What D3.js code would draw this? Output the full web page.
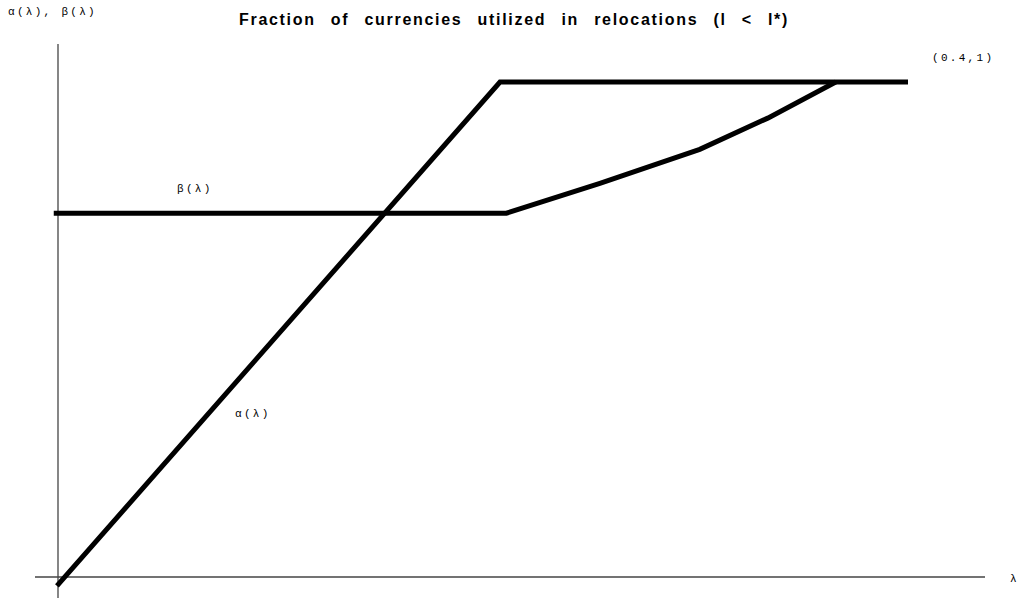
<!DOCTYPE html>
<html>
<head>
<meta charset="utf-8">
<script src="https://cdn.jsdelivr.net/npm/d3@7"></script>
<style>
  body { margin: 0; background: #fff; }
  .lbl { font-family: "Liberation Mono", "DejaVu Sans Mono", monospace; font-size: 11px; letter-spacing: 2.3px; fill: #000; }
</style>
</head>
<body>
<div id="chart"></div>
<script>
// lambda values and the two curves
const alphaLambda = [-0.0005, 0.208, 0.4];
const alphaValues = [-0.018, 1, 1];
const betaLambda = [-0.002, 0.211, 0.255, 0.302, 0.334, 0.366];
const betaValues = [0.735, 0.735, 0.795, 0.864, 0.927, 1];

let width = 1022;
let height = 598;

// origin of axes in pixels
let x = d3.scaleLinear().domain([0, 0.4]).range([58, 908]);
let y = d3.scaleLinear().domain([0, 1]).range([577, 82]);

let svg = d3.select("#chart").append("svg")
    .attr("width", width)
    .attr("height", height);

// axes (plain lines, no ticks)
svg.append("line")
    .attr("x1", 35).attr("x2", 985)
    .attr("y1", y(0)).attr("y2", y(0))
    .attr("stroke", "#444").attr("stroke-width", 1.3);

svg.append("line")
    .attr("x1", x(0)).attr("x2", x(0))
    .attr("y1", 44).attr("y2", height)
    .attr("stroke", "#444").attr("stroke-width", 1.3);

let line = d3.line()
    .x(function(d) { return x(d[0]); })
    .y(function(d) { return y(d[1]); });

let alphaData = alphaLambda.map(function(l, i) { return [l, alphaValues[i]]; });
let betaData = betaLambda.map(function(l, i) { return [l, betaValues[i]]; });

svg.append("path")
    .datum(betaData)
    .attr("fill", "none")
    .attr("stroke", "#000")
    .attr("stroke-width", 5)
    .attr("d", line);

svg.append("path")
    .datum(alphaData)
    .attr("fill", "none")
    .attr("stroke", "#000")
    .attr("stroke-width", 5)
    .attr("d", line);

// title
svg.append("text")
    .attr("x", 514)
    .attr("y", 25)
    .attr("text-anchor", "middle")
    .style("font-family", "'Liberation Sans', Arial, sans-serif")
    .style("font-weight", "bold")
    .style("font-size", "16px")
    .style("letter-spacing", "1.7px")
    .style("word-spacing", "9px")
    .text("Fraction of currencies utilized in relocations (l < l*)");

// labels
svg.append("text").attr("class", "lbl").attr("x", 8).attr("y", 15).text("α(λ), β(λ)");
svg.append("text").attr("class", "lbl").attr("x", 932).attr("y", 61).text("(0.4,1)");
svg.append("text").attr("class", "lbl").attr("x", 177).attr("y", 192).text("β(λ)");
svg.append("text").attr("class", "lbl").attr("x", 235).attr("y", 417).text("α(λ)");
svg.append("text").attr("class", "lbl").attr("x", 1010).attr("y", 582).text("λ");
</script>
</body>
</html>
